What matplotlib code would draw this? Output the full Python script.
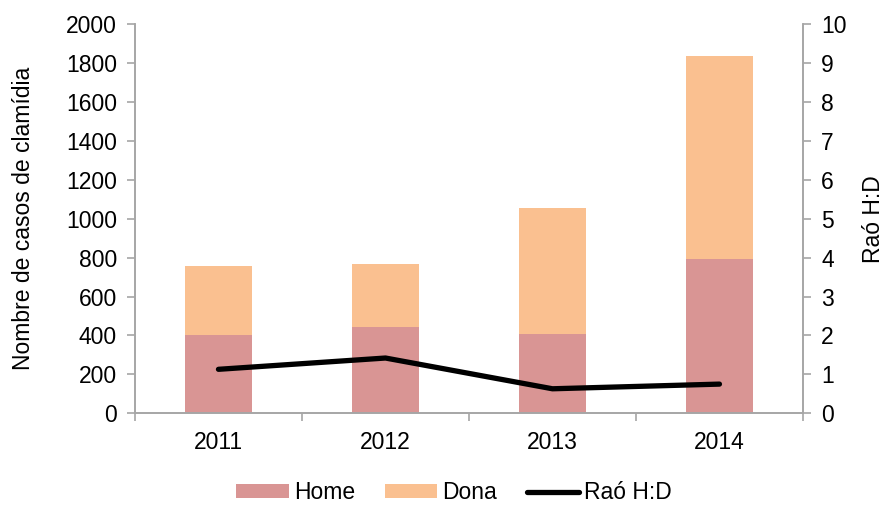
import numpy as np
import matplotlib
matplotlib.use("Agg")
import matplotlib.pyplot as plt

years = ["2011", "2012", "2013", "2014"]
home = [400, 445, 408, 795]
dona = [356, 321, 646, 1042]
ratio = [1.13, 1.42, 0.63, 0.75]

HOME_COLOR = "#D99594"
DONA_COLOR = "#FAC090"
SPINE_COLOR = "#A6A6A6"

plt.rcParams["font.family"] = ["Liberation Sans", "DejaVu Sans"]
plt.rcParams["font.size"] = 16.5

fig = plt.figure(figsize=(8.85, 5.07), dpi=100)
ax = fig.add_axes([0.1525, 0.1848, 0.7548, 0.7679])
ax2 = ax.twinx()

x = np.arange(len(years))
b1 = ax.bar(x, home, width=0.4, color=HOME_COLOR, label="Home", zorder=2)
b2 = ax.bar(x, dona, width=0.4, bottom=home, color=DONA_COLOR, label="Dona", zorder=2)
ln, = ax2.plot(x, ratio, color="black", linewidth=3.8, solid_capstyle="round", label="Raó H:D")

ax.set_xlim(-0.5, len(years) - 0.5)
ax.set_ylim(0, 2000)
ax.set_yticks(range(0, 2001, 200))
ax2.set_ylim(0, 10)
ax2.set_yticks(range(0, 11))

ax.set_xticks(x)
ax.set_xticklabels(years)
ax.set_xticks(np.arange(-0.5, len(years)), minor=True)
ax.tick_params(axis="x", which="major", length=0, pad=13)
ax.tick_params(axis="x", which="minor", length=6, color=SPINE_COLOR, width=1.2)
ax.tick_params(axis="y", length=6, color=SPINE_COLOR, width=1.2, pad=7)
ax2.tick_params(axis="y", length=6, color=SPINE_COLOR, width=1.2, pad=7)

for a in (ax, ax2):
    a.spines["top"].set_visible(False)
    for s in ("left", "right", "bottom"):
        a.spines[s].set_color(SPINE_COLOR)
        a.spines[s].set_linewidth(1.2)

ax.set_ylabel("Nombre de casos de clamídia", labelpad=22)
ax2.set_ylabel("Raó H:D", labelpad=11)

fig.legend(handles=[b1, b2, ln], loc="lower center", bbox_to_anchor=(0.513, -0.035),
           ncol=3, frameon=False, handlelength=2.3, handleheight=0.55,
           handletextpad=0.2, columnspacing=1.3)

fig.savefig("out.png", dpi=100)
